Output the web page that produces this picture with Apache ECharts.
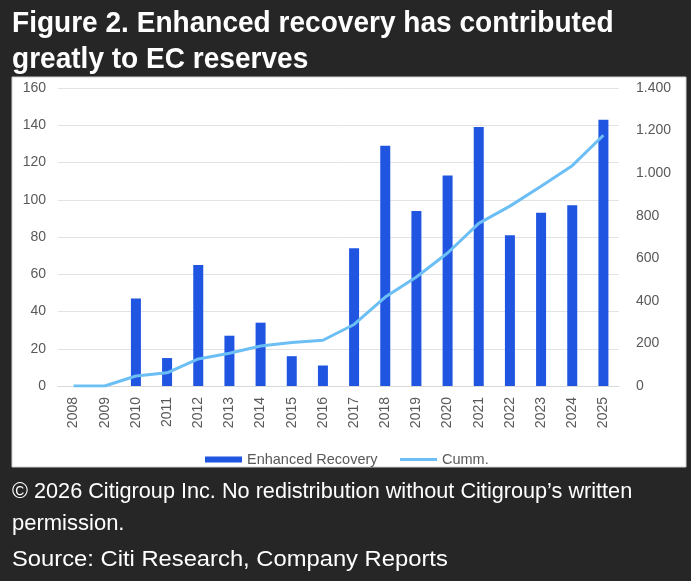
<!DOCTYPE html>
<html>
<head>
<meta charset="utf-8">
<script src="https://cdn.jsdelivr.net/npm/echarts@6/dist/echarts.min.js"></script>
<style>html,body{margin:0;padding:0;background:#262626;}#c{width:691px;height:581px;}</style>
</head>
<body>
<div id="c"></div>
<script>
const years = ['2008','2009','2010','2011','2012','2013','2014','2015','2016','2017','2018','2019','2020','2021','2022','2023','2024','2025'];
const enhancedRecovery = [0,0,47,15,65,27,34,16,11,74,129,94,113,139,81,93,97,143];
const cumm = [0,0,47,62,127,154,188,204,215,289,418,512,625,764,845,938,1035,1178];
const leftTicks = {min:0, max:160, interval:20};
const rightTicks = {min:0, max:1400, interval:200};
const titleLines = ['Figure 2. Enhanced recovery has contributed', 'greatly to EC reserves'];
const footerLines = ['\u00A9 2026 Citigroup Inc. No redistribution without Citigroup\u2019s written', 'permission.', 'Source: Citi Research, Company Reports'];

const chart = echarts.init(document.getElementById('c'), null, {renderer:'canvas'});
const font = '"Liberation Sans", Arial, sans-serif';
function txt(s, x, y, f, sx) {
  return {type:'text', x:x, y:y, scaleX:sx, style:{text:s, fill:'#ffffff', font:f}};
}
chart.setOption({
  backgroundColor:'#262626',
  animation:false,
  graphic:[
    {type:'rect', z:-10, silent:true, shape:{x:12, y:77, width:674, height:390}, style:{fill:'#ffffff', stroke:'#d0d0d0', lineWidth:1}},
    txt(titleLines[0], 12, 9, 'bold 30px '+font, 0.935),
    txt(titleLines[1], 12, 45, 'bold 30px '+font, 0.935),
    txt(footerLines[0], 12, 481, '22px '+font, 0.985),
    txt(footerLines[1], 12, 513, '22px '+font, 1.0),
    txt(footerLines[2], 12, 549, '22px '+font, 1.08)
  ],
  legend:[{
    top:447, left:200, itemWidth:37, itemHeight:6, itemGap:22,
    textStyle:{color:'#595959', fontSize:14.5, fontFamily:font},
    data:[{name:'Enhanced Recovery', icon:'rect'}]
  },{
    top:447, left:395, itemWidth:37, itemHeight:3, itemGap:22,
    textStyle:{color:'#595959', fontSize:14.5, fontFamily:font},
    data:[{name:'Cumm.', icon:'rect', itemStyle:{color:'#6cbff5'}}]
  }],
  grid:{left:58, right:72, top:88, bottom:195},
  xAxis:{
    type:'category', data:years, boundaryGap:true,
    axisLine:{show:true, lineStyle:{color:'#d9d9d9'}}, axisTick:{show:false},
    axisLabel:{rotate:90, color:'#595959', fontSize:14, fontFamily:font, margin:11, interval:0}
  },
  yAxis:[
    {type:'value', min:leftTicks.min, max:leftTicks.max, interval:leftTicks.interval,
     axisLine:{show:false}, axisTick:{show:false},
     splitLine:{lineStyle:{color:'#e3e3e3'}},
     axisLabel:{color:'#595959', fontSize:14, fontFamily:font, margin:12}},
    {type:'value', min:rightTicks.min, max:rightTicks.max, interval:rightTicks.interval,
     axisLine:{show:false}, axisTick:{show:false}, splitLine:{show:false},
     axisLabel:{color:'#595959', fontSize:14, fontFamily:font, margin:17,
       formatter:v => String(v).replace(/\B(?=(\d{3})+(?!\d))/g, '.')}}
  ],
  series:[
    {name:'Enhanced Recovery', type:'bar', data:enhancedRecovery, barWidth:10, yAxisIndex:0,
     itemStyle:{color:'#1f55e0'}},
    {name:'Cumm.', type:'line', data:cumm, yAxisIndex:1, symbol:'none', smooth:false,
     lineStyle:{color:'#6cbff5', width:3}, itemStyle:{color:'#6cbff5'}}
  ]
});
</script>
</body>
</html>
